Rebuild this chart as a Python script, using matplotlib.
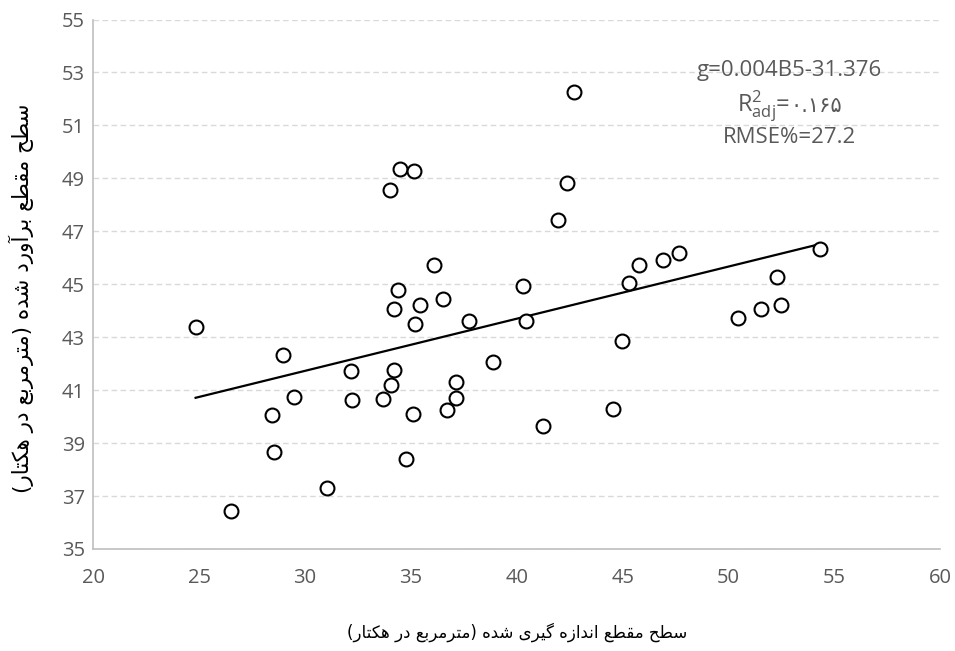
import matplotlib
matplotlib.use("Agg")
import matplotlib.pyplot as plt
import numpy as np

# ---------------- data ----------------
measured = [24.83, 34.01, 34.47, 35.13, 36.07, 34.37, 34.18, 35.43, 36.51, 35.19,
            37.75, 40.29, 40.42, 41.93, 42.70, 42.37, 45.28, 45.75, 46.88, 47.67,
            54.33, 52.29, 52.47, 51.53, 50.42, 44.98, 44.56, 41.25, 28.97, 29.46,
            28.42, 28.51, 26.52, 31.02, 32.15, 32.20, 33.66, 34.21, 34.07, 35.09,
            34.76, 36.70, 37.13, 37.13, 38.85]
estimated = [43.39, 48.55, 49.37, 49.29, 45.74, 44.77, 44.05, 44.20, 44.45, 43.48,
             43.62, 44.92, 43.62, 47.42, 52.27, 48.84, 45.04, 45.71, 45.91, 46.17,
             46.33, 45.26, 44.22, 44.06, 43.71, 42.85, 40.29, 39.65, 42.31, 40.75,
             40.06, 38.67, 36.45, 37.31, 41.71, 40.62, 40.66, 41.75, 41.19, 40.11,
             38.40, 40.25, 41.29, 40.70, 42.07]
trend_slope = 0.197
trend_intercept = 35.82

x_ticks = [20, 25, 30, 35, 40, 45, 50, 55, 60]
y_ticks = [35, 37, 39, 41, 43, 45, 47, 49, 51, 53, 55]

xlabel_text = "سطح مقطع اندازه گیری شده (مترمربع در هکتار)"
ylabel_text = "سطح مقطع برآورد شده (مترمربع در هکتار)"
eq_text = "g=0.004B5-31.376"
r2_value = "۰.۱۶۵"
rmse_text = "RMSE%=27.2"

# ---------------- minimal Persian shaping (matplotlib has no bidi/shaping) ----------------
FORMS = {
    '\u0627': ('\uFE8D', '\uFE8E', None, None),
    '\u0622': ('\uFE81', '\uFE82', None, None),
    '\u062F': ('\uFEA9', '\uFEAA', None, None),
    '\u0631': ('\uFEAD', '\uFEAE', None, None),
    '\u0632': ('\uFEAF', '\uFEB0', None, None),
    '\u0648': ('\uFEED', '\uFEEE', None, None),
    '\u0628': ('\uFE8F', '\uFE90', '\uFE91', '\uFE92'),
    '\u062A': ('\uFE95', '\uFE96', '\uFE97', '\uFE98'),
    '\u062D': ('\uFEA1', '\uFEA2', '\uFEA3', '\uFEA4'),
    '\u0633': ('\uFEB1', '\uFEB2', '\uFEB3', '\uFEB4'),
    '\u0634': ('\uFEB5', '\uFEB6', '\uFEB7', '\uFEB8'),
    '\u0637': ('\uFEC1', '\uFEC2', '\uFEC3', '\uFEC4'),
    '\u0639': ('\uFEC9', '\uFECA', '\uFECB', '\uFECC'),
    '\u0642': ('\uFED5', '\uFED6', '\uFED7', '\uFED8'),
    '\u0645': ('\uFEE1', '\uFEE2', '\uFEE3', '\uFEE4'),
    '\u0646': ('\uFEE5', '\uFEE6', '\uFEE7', '\uFEE8'),
    '\u0647': ('\uFEE9', '\uFEEA', '\uFEEB', '\uFEEC'),
    '\u06A9': ('\uFB8E', '\uFB8F', '\uFB90', '\uFB91'),
    '\u06AF': ('\uFB92', '\uFB93', '\uFB94', '\uFB95'),
    '\u06CC': ('\uFBFC', '\uFBFD', '\uFBFE', '\uFBFF'),
}


def dual(c):
    return c in FORMS and FORMS[c][2] is not None


def shape_rtl(s):
    out = []
    for i, c in enumerate(s):
        if c not in FORMS:
            out.append(c)
            continue
        prev = s[i - 1] if i > 0 else ''
        nxt = s[i + 1] if i + 1 < len(s) else ''
        jp = dual(prev)
        jn = dual(c) and nxt in FORMS
        iso, fin, ini, med = FORMS[c]
        if jp and jn:
            out.append(med)
        elif jp:
            out.append(fin)
        elif jn:
            out.append(ini)
        else:
            out.append(iso)
    mirror = {'(': ')', ')': '('}
    return ''.join(mirror.get(c, c) for c in reversed(out))


# ---------------- plot ----------------
plt.rcParams['font.family'] = ['Open Sans', 'DejaVu Sans']
plt.rcParams['mathtext.fontset'] = 'custom'
plt.rcParams['mathtext.rm'] = 'Open Sans'

fig = plt.figure(figsize=(9.55, 6.51), dpi=100)
ax = fig.add_axes([0.0977, 0.1567, 0.8871, 0.8133])

gray = '#595959'
ax.set_xlim(20, 60)
ax.set_ylim(35, 55)
ax.set_xticks(x_ticks)
ax.set_yticks(y_ticks)
ax.tick_params(length=0, labelsize=14.5, labelcolor=gray)
ax.tick_params(axis='x', pad=14)
ax.tick_params(axis='y', pad=6)

ax.grid(axis='y', color='#d9d9d9', linestyle=(0, (4, 2.5)), linewidth=1.0)
ax.set_axisbelow(True)
for side in ('top', 'right'):
    ax.spines[side].set_visible(False)
for side in ('left', 'bottom'):
    ax.spines[side].set_color('#bfbfbf')
    ax.spines[side].set_linewidth(1.2)

xs = np.array(measured)
xr = np.array([xs.min(), xs.max()])
ax.plot(xr, trend_slope * xr + trend_intercept, color='black', linewidth=1.6, zorder=2)

ax.plot(measured, estimated, linestyle='none', marker='o', markersize=10,
        markerfacecolor='white', markeredgecolor='black', markeredgewidth=1.5, zorder=3)

cx = 0.822
fs_ann = 16
ax.text(cx, 0.903, eq_text, transform=ax.transAxes, ha='center', va='center',
        fontsize=fs_ann, color=gray)
ax.text(cx, 0.778, rmse_text, transform=ax.transAxes, ha='center', va='center',
        fontsize=fs_ann, color=gray)

# R^2_adj line: math part in Open Sans, Persian digits in DejaVu Sans, shared baseline
y_base = 0.826
t1 = ax.text(cx, y_base, r'$\mathregular{R^{2}_{adj}}$=', transform=ax.transAxes,
             ha='left', va='baseline', fontsize=fs_ann + 1, color=gray)
t2 = ax.text(cx, y_base, r2_value, transform=ax.transAxes, ha='left', va='baseline',
             fontsize=fs_ann - 1, color=gray, family=['DejaVu Sans'])
fig.canvas.draw()
r = fig.canvas.get_renderer()
inv = ax.transAxes.inverted()
b1 = t1.get_window_extent(r)
b2 = t2.get_window_extent(r)
w1 = inv.transform((b1.x1, 0))[0] - inv.transform((b1.x0, 0))[0]
w2 = inv.transform((b2.x1, 0))[0] - inv.transform((b2.x0, 0))[0]
start = cx - (w1 + w2) / 2
t1.set_x(start)
t2.set_x(start + w1)

ax.set_xlabel(shape_rtl(xlabel_text), fontsize=12, color='black',
              family=['DejaVu Sans'], va='center')
ax.xaxis.set_label_coords(0.5, -0.158)
ax.set_ylabel(shape_rtl(ylabel_text), fontsize=15.5, color='black',
              family=['DejaVu Sans'], va='center')
ax.yaxis.set_label_coords(-0.085, 0.474)

fig.savefig('out.png', dpi=100, facecolor='white')
